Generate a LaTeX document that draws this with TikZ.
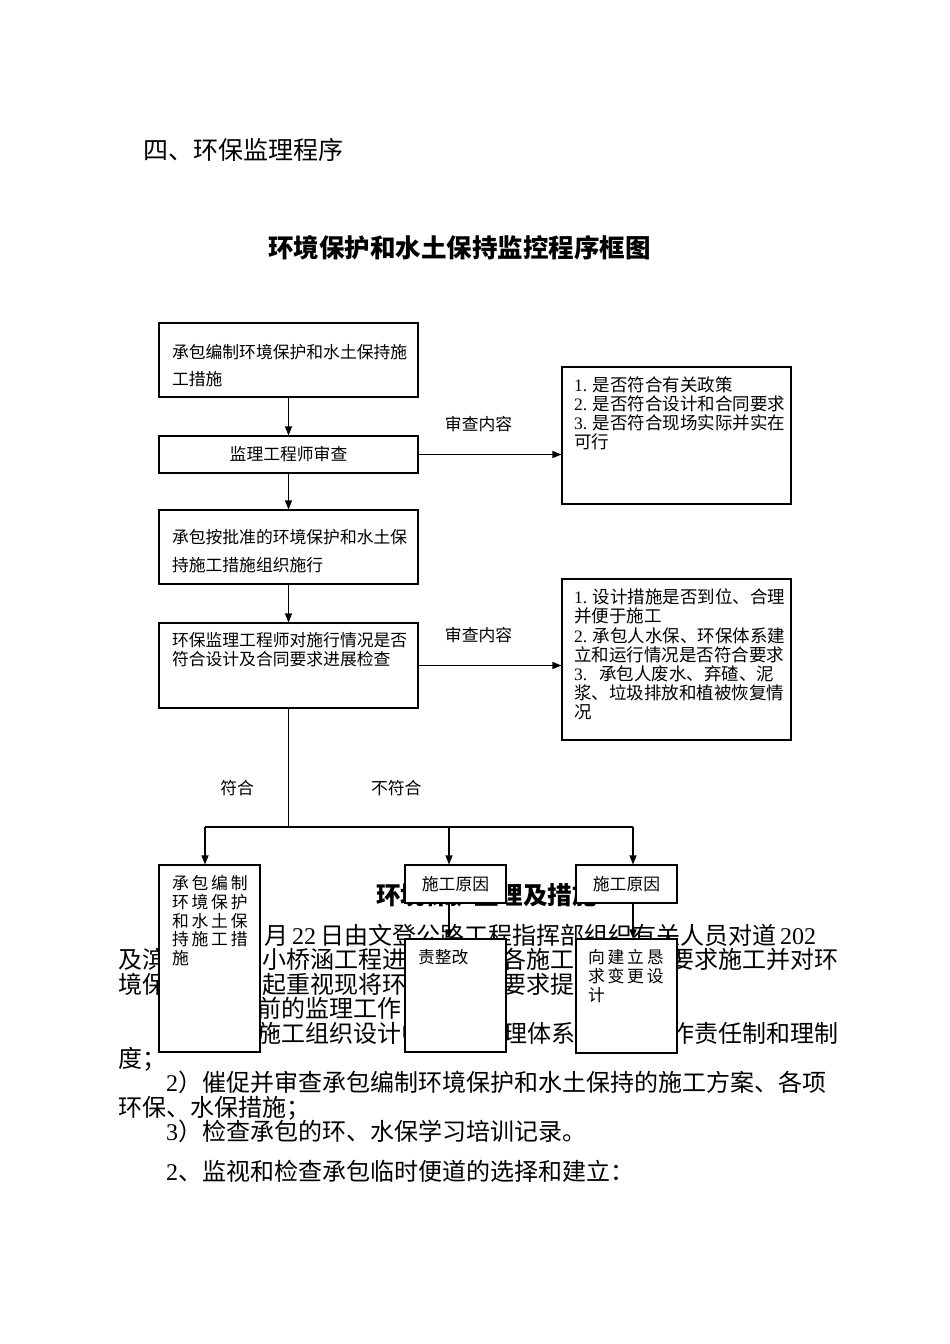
\documentclass[tikz,border=0pt]{standalone}
\usepackage{fontspec}
\setmainfont{Liberation Serif}
\newfontfamily\cjk{Noto Sans CJK SC}
\usetikzlibrary{arrows.meta}
\newcommand{\dg}[1]{{\rmfamily #1}}

\begin{document}
\begin{tikzpicture}[x=1pt, y=-1pt,
 box/.style={rectangle, draw, line width=1.1pt, fill=white, inner sep=0pt, font=\cjk\fontsize{16.8}{19}\selectfont},
 tbox/.style={box, align=left},
 arr/.style={->, >={Triangle[length=9pt, width=7pt]}, line width=1.1pt},
 line/.style={line width=1.1pt},
 lbl/.style={font=\cjk\fontsize{16.8}{19}\selectfont, inner sep=0pt},
 txt/.style={anchor=base west, inner sep=0pt, font=\cjk\fontsize{24}{24}\selectfont},
]
\useasboundingbox (0,0) rectangle (950,1344);

% headings
\node[txt, font=\cjk\fontsize{25}{25}\selectfont] (sect) at (143,159.5) {四、环保监理程序};
\node[txt, anchor=base, font=\cjk\bfseries\fontsize{25.5}{25.5}\selectfont] (title) at (459.5,257.7) {环境保护和水土保持监控程序框图};

% page text lying under the lower boxes
\node[txt, font=\cjk\bfseries\fontsize{24.5}{24.5}\selectfont] (sub) at (376,904) {环境保护监理及措施};
\node[txt] (l1) at (264,944) {月\,\dg{22}\,日由文登公路工程指挥部组织有关人员对道\,\dg{202}};
\node[txt] (l2a) at (118,968.5) {及滨};
\node[txt] (l2b) at (262,968.5) {小桥涵工程进};
\node[txt] (l2c) at (502,968.5) {各施工};
\node[txt] (l2d) at (670,968.5) {要求施工并对环};
\node[txt] (l3a) at (118,993) {境保};
\node[txt] (l3b) at (262,993) {起重视现将环};
\node[txt] (l3c) at (502,993) {要求提};
\node[txt] (l4) at (257,1017.5) {前的监理工作};
\node[txt] (l5a) at (257,1042) {施工组织设计中};
\node[txt] (l5b) at (503,1042) {理体系、};
\node[txt] (l5c) at (670,1042) {作责任制和理制};
\node[txt] (l6) at (118,1067) {度；};
\node[txt] (l7) at (166,1091.5) {\dg{2}）催促并审查承包编制环境保护和水土保持的施工方案、各项};
\node[txt] (l8) at (118,1116) {环保、水保措施；};
\node[txt] (l9) at (166,1140.5) {\dg{3}）检查承包的环、水保学习培训记录。};
\node[txt] (l10) at (166,1180) {\dg{2}、监视和检查承包临时便道的选择和建立：};

% main column
\node[tbox, minimum width=259pt, text width=233pt, text height=35.4pt, text depth=38.6pt, font=\cjk\fontsize{16.8}{27}\selectfont] (prep) at (288.5,360) {承包编制环境保护和水土保持施\\工措施};
\node[box, minimum width=259pt, minimum height=37pt] (review) at (288.5,454.5) {监理工程师审查};
\node[tbox, minimum width=259pt, text width=233pt, text height=33.4pt, text depth=40.6pt, font=\cjk\fontsize{16.8}{28}\selectfont] (implement) at (288.5,547) {承包按批准的环境保护和水土保\\持施工措施组织施行};
\node[tbox, minimum width=259pt, text width=233pt, text height=23.4pt, text depth=61.6pt] (inspect) at (288.5,665.5) {环保监理工程师对施行情况是否\\符合设计及合同要求进展检查};

% review contents
\node[tbox, minimum width=229pt, text width=205pt, text height=24.65pt, text depth=112.35pt, font=\cjk\fontsize{17.5}{18.8}\selectfont] (crit1) at (676.5,435.5) {\dg{1.}~是否符合有关政策\\\dg{2.}~是否符合设计和合同要求\\\dg{3.}~是否符合现场实际并实在\\可行};
\node[tbox, minimum width=229pt, text width=205pt, text height=24.65pt, text depth=136.35pt, font=\cjk\fontsize{17.5}{19.2}\selectfont] (crit2) at (676.5,659.5) {\dg{1.}~设计措施是否到位、合理\\并便于施工\\\dg{2.}~承包人水保、环保体系建\\立和运行情况是否符合要求\\\dg{3.}\hspace{12pt}承包人废水、弃碴、泥\\浆、垃圾排放和植被恢复情\\况};

% outcome boxes
\node[tbox, minimum width=101pt, text width=75pt, text height=24.4pt, text depth=162.6pt, font=\cjk\fontsize{16.8}{18.8}\selectfont] (fixok) at (209.5,958.5) {承\,包\,编\,制\\环\,境\,保\,护\\和\,水\,土\,保\\持\,施\,工\,措\\施};
\node[box, minimum width=101pt, minimum height=38pt] (causeA) at (455.5,884) {施工原因};
\node[tbox, minimum width=101pt, text width=75pt, text height=24.4pt, text depth=88.6pt] (rectA) at (455.5,995.5) {责整改};
\node[box, minimum width=101pt, minimum height=38pt] (causeB) at (626.5,884) {施工原因};
\node[tbox, minimum width=101pt, text width=77pt, text height=24.4pt, text depth=89.6pt] (redesign) at (626.5,996) {向\,建\,立\,恳\\求\,变\,更\,设\\计};

\coordinate (split) at (288.5,827);
\coordinate (brL) at (205,827);
\coordinate (brM) at (449,827);
\coordinate (brR) at (633,827);

\draw[arr] (prep) -- (review);
\draw[arr] (review) -- (implement);
\draw[arr] (implement) -- (inspect);
\draw[arr] (review.east) -- (review.east -| crit1.west) node[lbl, pos=0.42, above=22pt] {审查内容};
\draw[arr] (inspect.east) -- (inspect.east -| crit2.west) node[lbl, pos=0.42, above=22pt] {审查内容};
\draw[line] (inspect) -- (split) node[lbl, pos=0.67, left=34pt] {符合} node[lbl, pos=0.67, right=82pt] {不符合};
\draw[line] (brL) -- (brR);
\draw[arr] (brL) -- (brL |- fixok.north);
\draw[arr] (brM) -- (brM |- causeA.north);
\draw[arr] (brR) -- (brR |- causeB.north);
\draw[arr] (brM |- causeA.south) -- (brM |- rectA.north);
\draw[arr] (brR |- causeB.south) -- (brR |- redesign.north);
\end{tikzpicture}
\end{document}
